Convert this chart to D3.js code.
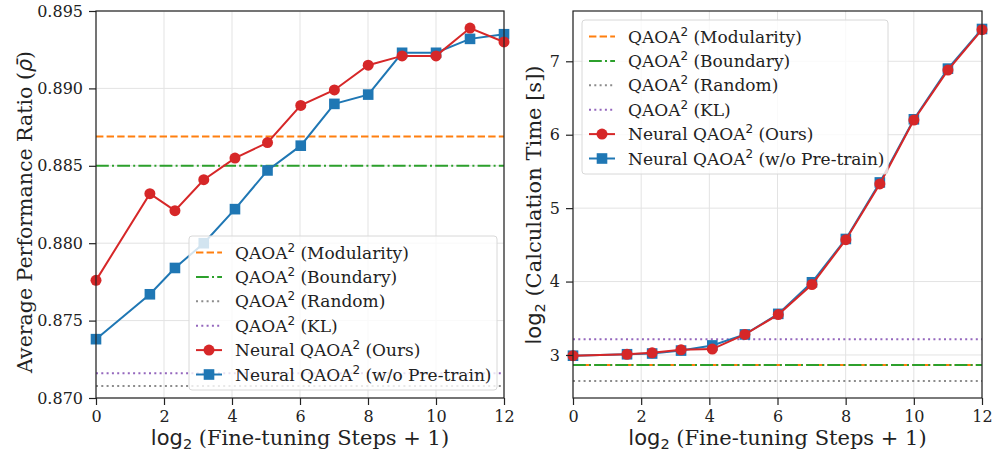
<!DOCTYPE html>
<html>
<head>
<meta charset="utf-8">
<script src="https://cdn.jsdelivr.net/npm/d3@7"></script>
<style>
  body { margin: 0; background: #fff; }
  svg { display: block; }
</style>
</head>
<body>
<div id="chart"></div>
<script>
// fine-tuning steps, x axis is log2(steps + 1)
const steps = [0, 2, 4, 8, 16, 32, 64, 128, 256, 512, 1024, 2048, 4096];

// left panel: average performance ratio
const ratioOurs  = [0.8776, 0.8832, 0.8821, 0.8841, 0.8855, 0.8865, 0.8889, 0.8899, 0.8915, 0.8921, 0.8921, 0.8939, 0.8930];
const ratioNoPre = [0.8738, 0.8767, 0.8784, 0.8800, 0.8822, 0.8847, 0.8863, 0.8890, 0.8896, 0.8923, 0.8923, 0.8932, 0.8935];

// right panel: log2 calculation time
const timeOurs  = [2.99, 3.01, 3.03, 3.07, 3.08, 3.28, 3.55, 3.96, 4.57, 5.33, 6.20, 6.88, 7.43];
const timeNoPre = [2.99, 3.01, 3.02, 3.06, 3.13, 3.28, 3.56, 3.99, 4.58, 5.35, 6.21, 6.90, 7.44];

// baselines (constant lines): Modularity, Boundary, Random, KL
const baselineNames = ["Modularity", "Boundary", "Random", "KL"];
const ratioBaselines = [0.8869, 0.8850, 0.87078, 0.8716];
const timeBaselines  = [2.864, 2.864, 2.646, 3.214];

const xTicks = [0, 2, 4, 6, 8, 10, 12];
const ratioTicks = [0.870, 0.875, 0.880, 0.885, 0.890, 0.895];
const timeTicks = [3, 4, 5, 6, 7];

const serif = "'DejaVu Serif', serif";
const sans = "'DejaVu Sans', sans-serif";

const baseStyle = [
  {color: "#ff7f0e", dash: "7.4,3.2", w: 2},
  {color: "#2ca02c", dash: "12.8,3.2,2,3.2", w: 2},
  {color: "#8c8c8c", dash: "2,3.3", w: 2},
  {color: "#9467bd", dash: "2,3.3", w: 2}
];
const red = "#d62728", blue = "#1f77b4";

const svg = d3.select("#chart").append("svg")
  .attr("width", 992).attr("height", 455);

function panel(cfg) {
  const x = d3.scaleLinear().domain([0, 12]).range([cfg.left, cfg.right]);
  const y = d3.scaleLinear().domain(cfg.yDomain).range([cfg.bottom, cfg.top]);
  const g = svg.append("g");

  // grid
  g.append("g").selectAll("line").data(xTicks).join("line")
    .attr("x1", d => x(d)).attr("x2", d => x(d))
    .attr("y1", cfg.top).attr("y2", cfg.bottom)
    .attr("stroke", "#e3e3e3").attr("stroke-width", 1);
  g.append("g").selectAll("line").data(cfg.yTicks).join("line")
    .attr("x1", cfg.left).attr("x2", cfg.right)
    .attr("y1", d => y(d)).attr("y2", d => y(d))
    .attr("stroke", "#e3e3e3").attr("stroke-width", 1);

  // baselines
  cfg.baselines.forEach((v, i) => {
    const s = baseStyle[i];
    g.append("line")
      .attr("x1", cfg.left).attr("x2", cfg.right)
      .attr("y1", y(v)).attr("y2", y(v))
      .attr("stroke", s.color).attr("stroke-width", s.w)
      .attr("stroke-dasharray", s.dash);
  });

  const xs = steps.map(s => Math.log2(s + 1));
  const line = d3.line().x(d => x(d[0])).y(d => y(d[1]));

  // w/o pre-train (blue squares)
  const nb = xs.map((v, i) => [v, cfg.noPre[i]]);
  g.append("path").datum(nb).attr("d", line)
    .attr("fill", "none").attr("stroke", blue).attr("stroke-width", 2);
  g.append("g").selectAll("rect").data(nb).join("rect")
    .attr("x", d => x(d[0]) - 5.3).attr("y", d => y(d[1]) - 5.3)
    .attr("width", 10.6).attr("height", 10.6).attr("fill", blue);

  // ours (red circles)
  const nr = xs.map((v, i) => [v, cfg.ours[i]]);
  g.append("path").datum(nr).attr("d", line)
    .attr("fill", "none").attr("stroke", red).attr("stroke-width", 2);
  g.append("g").selectAll("circle").data(nr).join("circle")
    .attr("cx", d => x(d[0])).attr("cy", d => y(d[1]))
    .attr("r", 5.5).attr("fill", red);

  // axes
  const xAxis = d3.axisBottom(x).tickValues(xTicks).tickSize(7).tickPadding(6);
  const yAxis = d3.axisLeft(y).tickValues(cfg.yTicks).tickSize(7).tickPadding(6)
    .tickFormat(cfg.yFormat);
  const ax = g.append("g").attr("transform", `translate(0,${cfg.bottom})`).call(xAxis);
  const ay = g.append("g").attr("transform", `translate(${cfg.left},0)`).call(yAxis);
  [ax, ay].forEach(a => {
    a.select(".domain").remove();
    a.selectAll("line").attr("stroke", "#222").attr("stroke-width", 1.2);
    a.selectAll("text").attr("font-family", serif).attr("font-size", 16).attr("fill", "#222");
  });

  // legend (drawn above data, semi transparent)
  const lg = g.append("g");
  lg.append("rect")
    .attr("x", cfg.lx).attr("y", cfg.ly).attr("width", cfg.lw).attr("height", 154)
    .attr("rx", 3).attr("fill", "white").attr("fill-opacity", 0.8)
    .attr("stroke", "#d8d8d8").attr("stroke-width", 1);
  const labels = baselineNames.map(n => ["QAOA", " (" + n + ")"])
    .concat([["Neural QAOA", " (Ours)"], ["Neural QAOA", " (w/o Pre-train)"]]);
  labels.forEach((lab, i) => {
    const cy = cfg.ly + 16.5 + i * 24.4;
    const hx0 = cfg.lx + 7, hx1 = cfg.lx + 33;
    if (i < 4) {
      const s = baseStyle[i];
      lg.append("line").attr("x1", hx0).attr("x2", hx1).attr("y1", cy).attr("y2", cy)
        .attr("stroke", s.color).attr("stroke-width", s.w).attr("stroke-dasharray", s.dash);
    } else {
      const c = i === 4 ? red : blue;
      lg.append("line").attr("x1", hx0).attr("x2", hx1).attr("y1", cy).attr("y2", cy)
        .attr("stroke", c).attr("stroke-width", 2);
      if (i === 4) lg.append("circle").attr("cx", (hx0 + hx1) / 2).attr("cy", cy).attr("r", 5.5).attr("fill", c);
      else lg.append("rect").attr("x", (hx0 + hx1) / 2 - 5.3).attr("y", cy - 5.3).attr("width", 10.6).attr("height", 10.6).attr("fill", c);
    }
    const t = lg.append("text").attr("x", cfg.lx + 46).attr("y", cy + 6)
      .attr("font-family", serif).attr("font-size", 17).attr("fill", "#222");
    t.append("tspan").text(lab[0]);
    t.append("tspan").attr("dy", -7).attr("font-size", 12).attr("font-family", sans).text("2");
    t.append("tspan").attr("dy", 7).text(lab[1]);
  });

  // frame
  g.append("rect")
    .attr("x", cfg.left).attr("y", cfg.top)
    .attr("width", cfg.right - cfg.left).attr("height", cfg.bottom - cfg.top)
    .attr("fill", "none").attr("stroke", "#222").attr("stroke-width", 1.2);

  // x label
  const xl = g.append("text")
    .attr("x", (cfg.left + cfg.right) / 2).attr("y", 445)
    .attr("text-anchor", "middle").attr("font-size", 21).attr("fill", "#222")
    .attr("font-family", serif);
  xl.append("tspan").attr("font-family", sans).text("log");
  xl.append("tspan").attr("font-family", sans).attr("font-size", 14.5).attr("dy", 4).text("2");
  xl.append("tspan").attr("dy", -4).text(" (Fine-tuning Steps + 1)");

  // y label
  const yl = g.append("text")
    .attr("transform", `translate(${cfg.ylx},${cfg.ylc}) rotate(-90)`)
    .attr("text-anchor", "middle").attr("font-size", cfg.ylSize).attr("fill", "#222")
    .attr("font-family", serif);
  cfg.yLabel(yl);
}

panel({
  left: 96, right: 504, top: 11, bottom: 398,
  yDomain: [0.870, 0.895], yTicks: ratioTicks, yFormat: d3.format(".3f"),
  ours: ratioOurs, noPre: ratioNoPre, baselines: ratioBaselines,
  lx: 189, ly: 236, lw: 308, ylx: 32, ylc: 212, ylSize: 20.5,
  yLabel: t => {
    t.append("tspan").text("Average Performance Ratio (");
    t.append("tspan").attr("font-family", sans).attr("font-style", "italic").text("ρ\u0304");
    t.append("tspan").text(")");
  }
});

panel({
  left: 573, right: 982, top: 11, bottom: 398,
  yDomain: [2.414, 7.685], yTicks: timeTicks, yFormat: d3.format("d"),
  ours: timeOurs, noPre: timeNoPre, baselines: timeBaselines,
  lx: 582, ly: 20, lw: 306, ylx: 541, ylc: 205, ylSize: 21,
  yLabel: t => {
    t.append("tspan").attr("font-family", sans).text("log");
    t.append("tspan").attr("font-family", sans).attr("font-size", 14.5).attr("dy", 4).text("2");
    t.append("tspan").attr("dy", -4).text(" (Calculation Time [s])");
  }
});
</script>
</body>
</html>
